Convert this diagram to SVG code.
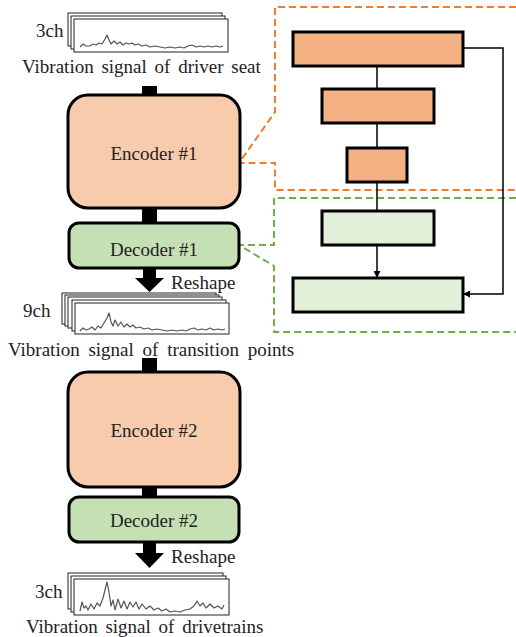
<svg xmlns="http://www.w3.org/2000/svg" width="516" height="637" viewBox="0 0 516 637">
<defs>
<style>
text{font-family:"Liberation Serif","Times New Roman",serif;fill:#222;}
.lbl{font-size:19px;word-spacing:3px;}
.box{font-size:19px;text-anchor:middle;}
.enc{fill:#F8CBAD;stroke:#000;stroke-width:3;}
.dec{fill:#C5E0B4;stroke:#000;stroke-width:3;}
.benc{fill:#F4B183;stroke:#000;stroke-width:3;}
.bdec{fill:#E2F0D9;stroke:#000;stroke-width:3;}
.sheet{fill:#fff;stroke:#222;stroke-width:1;}
.wave{fill:none;stroke:#555;stroke-width:1.2;stroke-linejoin:round;}
.bar{fill:#000;}
.line{fill:none;stroke:#000;stroke-width:1.5;}
.odash{fill:none;stroke:#ED7D31;stroke-width:2;stroke-dasharray:7,4;}
.gdash{fill:none;stroke:#70AD47;stroke-width:2;stroke-dasharray:7,4;}
</style>
<marker id="ah" viewBox="0 0 10 10" refX="10" refY="5" markerWidth="7" markerHeight="7" markerUnits="userSpaceOnUse" orient="auto"><path d="M0,0 L10,5 L0,10 z" fill="#000"/></marker>
</defs>

<g id="connectors">
<rect class="bar" x="142" y="86" width="15" height="10"/>
<rect class="bar" x="142" y="207" width="15" height="16"/>
<path class="bar" d="M143,267 H156 V278 H164 L149.5,292 L135,278 H143 Z"/>
<rect class="bar" x="142" y="358" width="15" height="15"/>
<rect class="bar" x="142" y="486" width="15" height="12"/>
<path class="bar" d="M143,541 H156 V553 H164 L149.5,568 L135,553 H143 Z"/>
<path class="odash" d="M516,7 H275 V112 L239,163 H275 V190 H516"/>
<path class="gdash" d="M516,198 H274 V245 H239 L274,266 V332 H516"/>
<path class="line" d="M377,66 V89 M377,123 V148 M377,182 V211"/>
<path class="line" d="M377,245 V278" marker-end="url(#ah)"/>
<path class="line" d="M463,48 H503 V294 H463" marker-end="url(#ah)"/>
</g>

<g id="input-signal">
<rect class="sheet" x="68" y="13" width="154" height="33"/>
<rect class="sheet" x="71" y="16" width="154" height="33"/>
<rect class="sheet" x="74" y="19" width="154" height="33"/>
<polyline class="wave" points="80,47 83,44 86,46 90,46 93,44 96,45 99,43 102,44 105,39 107,35 109,40 111,44 114,41 117,44 120,42 123,45 126,43 129,44 132,43 135,45 138,44 142,46 146,45 150,47 155,46 160,47 165,48 170,47 175,48 180,47 184,48 188,46 192,45 196,47 200,46 204,47 208,46 212,47 216,46 220,47 223,46"/>
<text class="lbl" x="36" y="37">3ch</text>
<text class="lbl" x="22" y="73">Vibration signal of driver seat</text>
</g>

<g id="encoder1">
<rect class="enc" x="68" y="95" width="172" height="113" rx="20"/>
<text class="box" x="154" y="160">Encoder #1</text>
</g>

<g id="decoder1">
<rect class="dec" x="69" y="223" width="170" height="45" rx="10"/>
<text class="box" x="154" y="256">Decoder #1</text>
</g>
<text class="lbl" x="171" y="289">Reshape</text>

<g id="transition-signal">
<rect class="sheet" x="62" y="293" width="154" height="31"/>
<rect class="sheet" x="65" y="295" width="154" height="31"/>
<rect class="sheet" x="68" y="297" width="154" height="31"/>
<rect class="sheet" x="72" y="300" width="154" height="31"/>
<rect class="sheet" x="75" y="303" width="154" height="31"/>
<polyline class="wave" points="80,331 83,328 86,330 89,329 92,327 95,330 98,326 101,328 104,323 107,318 109,313 111,322 113,326 115,320 118,326 121,322 124,327 127,324 130,327 133,325 136,328 140,327 144,329 148,328 152,330 157,329 162,330 167,331 172,330 177,331 182,330 186,331 190,329 194,328 198,330 202,329 206,330 210,328 214,330 218,329 222,330 225,329"/>
<text class="lbl" x="23" y="317">9ch</text>
<text class="lbl" x="8" y="356" style="word-spacing:4px">Vibration signal of transition points</text>
</g>

<g id="encoder2">
<rect class="enc" x="68" y="372" width="172" height="115" rx="20"/>
<text class="box" x="154" y="437">Encoder #2</text>
</g>

<g id="decoder2">
<rect class="dec" x="69" y="497" width="170" height="45" rx="10"/>
<text class="box" x="154" y="527">Decoder #2</text>
</g>
<text class="lbl" x="171" y="563">Reshape</text>

<g id="output-signal">
<rect class="sheet" x="68" y="573" width="155" height="36"/>
<rect class="sheet" x="71" y="576" width="155" height="36"/>
<rect class="sheet" x="74" y="579" width="155" height="36"/>
<polyline class="wave" points="80,611 82,602 84,608 86,606 88,610 91,604 94,609 97,603 100,606 103,598 105,590 107,582 109,592 111,606 113,600 115,610 118,599 121,608 124,601 127,609 130,602 133,607 136,602 139,609 142,604 146,609 150,606 154,610 158,608 162,611 166,609 170,612 175,611 180,612 185,610 190,609 194,606 197,601 200,606 203,603 206,608 210,604 214,608 218,606 222,609 224,605"/>
<text class="lbl" x="35" y="598">3ch</text>
<text class="lbl" x="26" y="633">Vibration signal of drivetrains</text>
</g>

<g id="block-enc1"><rect class="benc" x="293" y="32" width="170" height="34"/></g>
<g id="block-enc2"><rect class="benc" x="322" y="89" width="112" height="34"/></g>
<g id="block-enc3"><rect class="benc" x="347" y="148" width="60" height="34"/></g>
<g id="block-dec1"><rect class="bdec" x="322" y="211" width="112" height="34"/></g>
<g id="block-dec2"><rect class="bdec" x="293" y="278" width="170" height="34"/></g>
</svg>
